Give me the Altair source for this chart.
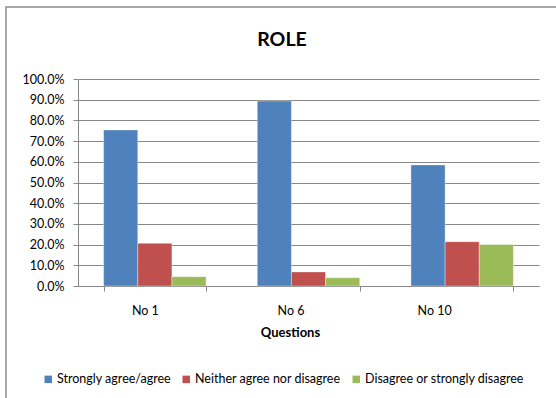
import altair as alt
import pandas as pd

questions = ["No 1", "No 6", "No 10"]
series = ["Strongly agree/agree", "Neither agree nor disagree", "Disagree or strongly disagree"]
agree = [0.754, 0.894, 0.585]
neither = [0.206, 0.068, 0.214]
disagree = [0.045, 0.040, 0.201]
colors = ["#4F81BD", "#C0504D", "#9BBB59"]
y_ticks = [0.0, 0.1, 0.2, 0.3, 0.4, 0.5, 0.6, 0.7, 0.8, 0.9, 1.0]

rows = []
for i, q in enumerate(questions):
    for s, vals in zip(series, [agree, neither, disagree]):
        rows.append({"Question": q, "Response": s, "Value": vals[i]})
df = pd.DataFrame(rows)

W, H = 461, 207
FONT = "Lato"
GRID = "#878787"

border = alt.Chart(pd.DataFrame({"a": [0]})).mark_rect(
    fillOpacity=0, stroke="#8c8c8c", strokeWidth=1.5
).encode(
    x=alt.value(-72), x2=alt.value(W + 100), y=alt.value(-72), y2=alt.value(H + 150)
)

label_offset = {
    "condition": [
        {"test": "datum.value === 'No 1'", "value": -10},
        {"test": "datum.value === 'No 6'", "value": -18},
    ],
    "value": -28,
}

bars = alt.Chart(df).mark_bar(stroke="#ffffff", strokeWidth=0.6, strokeOpacity=0.6).encode(
    x=alt.X(
        "Question:N",
        sort=questions,
        scale=alt.Scale(paddingInner=1 / 3, paddingOuter=1 / 6),
        axis=alt.Axis(
            title="Questions",
            labelAngle=0,
            labelFont=FONT,
            labelFontSize=12.5,
            labelColor="#000000",
            labelPadding=13,
            labelOffset=label_offset,
            tickBand="extent",
            tickSize=5,
            tickColor=GRID,
            domainColor=GRID,
            titleFont=FONT,
            titleFontSize=13,
            titleFontWeight="bold",
            titleColor="#000000",
            titlePadding=10,
            titleX=212,
        ),
    ),
    xOffset=alt.XOffset("Response:N", sort=series, scale=alt.Scale(paddingInner=0, paddingOuter=0)),
    y=alt.Y(
        "Value:Q",
        scale=alt.Scale(domain=[0, 1], nice=False),
        axis=alt.Axis(
            title=None,
            format=".1%",
            values=y_ticks,
            labelFont=FONT,
            labelFontSize=12.5,
            labelColor="#000000",
            labelPadding=9,
            tickSize=5,
            tickColor=GRID,
            domainColor=GRID,
            gridColor=GRID,
            gridWidth=1,
        ),
    ),
    color=alt.Color(
        "Response:N",
        sort=series,
        scale=alt.Scale(domain=series, range=colors),
        legend=alt.Legend(
            title=None,
            orient="none",
            legendX=-36,
            legendY=294,
            direction="horizontal",
            symbolType="square",
            symbolSize=56,
            symbolStrokeWidth=0,
            labelFont=FONT,
            labelFontSize=12.5,
            labelColor="#000000",
            labelOffset=2.5,
            columnPadding=9,
            padding=0,
        ),
    ),
)

chart = alt.layer(border, bars).properties(
    width=W,
    height=H,
    title=alt.TitleParams(
        "ROLE", font=FONT, fontSize=19.5, fontWeight="bold", color="#000000",
        anchor="middle", dx=-26.5, offset=0, baseline="alphabetic", dy=59.5,
    ),
    autosize=alt.AutoSizeParams(type="none"),
    padding={"left": 78, "top": 79, "right": 17, "bottom": 112},
    background="#ffffff",
).configure_view(stroke=None)

chart.save("out.html", embed_options={"renderer": "svg", "actions": False})
